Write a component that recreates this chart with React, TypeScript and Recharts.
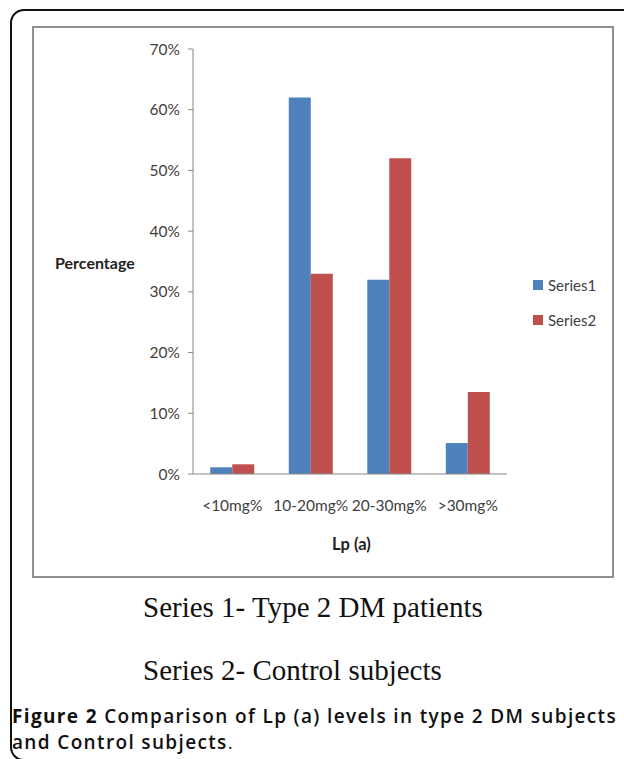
import { Bar, BarChart, XAxis, YAxis } from "recharts";

const categories = ["<10mg%", "10-20mg%", "20-30mg%", ">30mg%"];
const series1 = [1.1, 62, 32, 5.1];
const series2 = [1.6, 33, 52, 13.5];
const yTicks = [0, 10, 20, 30, 40, 50, 60, 70];
const seriesList = [
  { key: "s1", name: "Series1", color: "#4F81BD" },
  { key: "s2", name: "Series2", color: "#C0504D" },
];

const data = categories.map((name, i) => ({ name, s1: series1[i], s2: series2[i] }));
const edgeTicks = categories.map((_, i) => i).concat(categories.length);

const chartFont = "Lato, 'Open Sans', sans-serif";
const axisColor = "#868686";
const textColor = "#404040";

const captionStyle = {
  position: "absolute" as const,
  left: 12,
  height: 26,
  fontFamily: "'Open Sans', sans-serif",
  fontWeight: 600,
  fontSize: 19,
  letterSpacing: 1.35,
  lineHeight: "26px",
  color: "#111",
  whiteSpace: "nowrap" as const,
};

const App = () => {
  return (
    <div style={{ position: "absolute", left: 0, top: 0, width: 624, height: 759, overflow: "hidden", background: "#fff" }}>
      <div
        style={{
          position: "absolute",
          left: 10,
          top: 9,
          width: 700,
          height: 752,
          border: "2px solid #111",
          borderRadius: 14,
          boxSizing: "border-box",
        }}
      />
      <div
        style={{
          position: "absolute",
          left: 32,
          top: 26,
          width: 582,
          height: 552,
          border: "2px solid #8f8f8f",
          boxSizing: "border-box",
        }}
      />
      <div style={{ position: "absolute", left: 0, top: 0 }}>
        <BarChart
          width={624}
          height={600}
          data={data}
          margin={{ top: 49, right: 117, left: 133, bottom: 96 }}
          barGap={0}
          barCategoryGap="22%"
        >
          <XAxis
            xAxisId="edges"
            type="number"
            domain={[0, categories.length]}
            ticks={edgeTicks}
            tickFormatter={() => ""}
            axisLine={false}
            tickSize={7}
            height={0}
            stroke={axisColor}
          />
          <XAxis
            dataKey="name"
            tickLine={false}
            tickSize={0}
            tickMargin={26}
            height={30}
            stroke={axisColor}
            tick={{ fill: textColor, fontSize: 15.5, fontFamily: chartFont }}
          />
          <YAxis
            width={60}
            domain={[0, 70]}
            ticks={yTicks}
            tickFormatter={(v: number) => `${v}%`}
            tickSize={5}
            tickMargin={8}
            stroke={axisColor}
            tick={{ fill: textColor, fontSize: 15.5, fontFamily: chartFont }}
          />
          {seriesList.map((s) => (
            <Bar key={s.key} dataKey={s.key} name={s.name} fill={s.color} isAnimationActive={false} />
          ))}
        </BarChart>
      </div>
      <div
        style={{
          position: "absolute",
          left: 533,
          top: 267,
          fontFamily: chartFont,
          fontSize: 15,
          color: textColor,
        }}
      >
        {seriesList.map((s) => (
          <div key={s.key} style={{ display: "flex", alignItems: "center", height: 35 }}>
            <span style={{ width: 10, height: 10, background: s.color, display: "inline-block", marginRight: 5 }} />
            {s.name}
          </div>
        ))}
      </div>
      <div
        style={{
          position: "absolute",
          left: 55,
          top: 253,
          fontFamily: chartFont,
          fontWeight: 700,
          fontSize: 16,
          color: "#222",
        }}
      >
        Percentage
      </div>
      <div
        style={{
          position: "absolute",
          left: 332,
          top: 534,
          fontFamily: chartFont,
          fontWeight: 700,
          fontSize: 16.5,
          color: "#222",
        }}
      >
        Lp (a)
      </div>
      <div
        style={{
          position: "absolute",
          left: 143,
          top: 591,
          fontFamily: "'Liberation Serif', 'Times New Roman', serif",
          fontSize: 29,
          color: "#111",
          whiteSpace: "nowrap",
        }}
      >
        Series 1- Type 2 DM patients
      </div>
      <div
        style={{
          position: "absolute",
          left: 143,
          top: 654,
          fontFamily: "'Liberation Serif', 'Times New Roman', serif",
          fontSize: 29,
          color: "#111",
          whiteSpace: "nowrap",
        }}
      >
        Series 2- Control subjects
      </div>
      <div style={{ ...captionStyle, top: 703 }}>
        <span style={{ fontWeight: 700 }}>Figure 2</span> Comparison of Lp (a) levels in type 2 DM subjects
      </div>
      <div style={{ ...captionStyle, top: 729 }}>
        and Control subjects<span style={{ fontWeight: 400 }}>.</span>
      </div>
    </div>
  );
};

export default App;
